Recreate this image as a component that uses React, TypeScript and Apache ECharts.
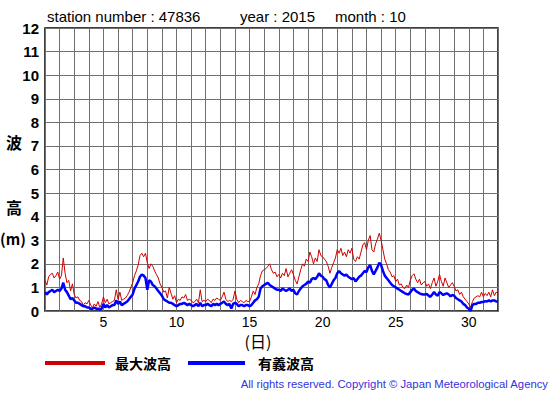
import React, { useEffect, useRef } from "react";
import * as echarts from "echarts";

// 3-hourly readings from 1st 00h to 32nd 00h (days on the x axis)
const maxWave: number[] = [
  1.3, 1.1, 1.45, 1.55, 1.6, 1.4, 1.5, 1.65,
  1.35, 1.5, 2.25, 1.6, 1.2, 1.3, 0.85, 1.15,
  0.7, 0.55, 0.6, 0.45, 0.4, 0.25, 0.35, 0.3,
  0.45, 0.25, 0.15, 0.3, 0.2, 0.4, 0.15, 0.3,
  0.6, 0.35, 0.5, 0.3, 0.35, 0.4, 0.45, 0.9,
  0.5, 0.8, 0.45, 0.5, 0.55, 0.65, 0.8, 1.0,
  1.2, 1.5, 1.7, 1.95, 2.35, 2.45, 2.3, 2.45,
  2.05, 1.8, 2.0, 1.9, 1.7, 1.55, 1.4, 1.15,
  1.0, 0.8, 0.85, 0.55, 1.0, 0.75, 0.5, 0.65,
  0.35, 0.5, 0.45, 0.6, 0.55, 0.7, 0.45, 0.5,
  0.45, 0.35, 0.4, 0.5, 0.35, 0.9, 0.4, 0.45,
  0.4, 0.5, 0.45, 0.35, 0.5, 0.45, 0.55, 0.5,
  0.45, 0.6, 0.8, 0.5, 0.4, 0.45, 0.4, 0.5,
  0.85, 0.5, 0.35, 0.45, 0.4, 0.35, 0.45, 0.4,
  0.4, 0.6, 0.85, 0.7, 1.0, 1.15, 1.5, 1.7,
  1.75, 1.8, 1.9, 2.0, 1.75, 1.6, 1.65, 1.45,
  1.55, 1.4, 1.6, 1.5, 1.8, 1.45, 1.6, 1.75,
  1.55, 1.3, 1.15, 1.45, 1.75, 2.0, 1.9, 2.2,
  2.1, 2.5, 2.3, 2.0, 2.25, 2.1, 2.6, 2.35,
  2.3, 2.2, 2.1, 1.9, 1.6, 1.85, 2.05, 2.25,
  2.6, 2.45, 2.66, 2.35, 2.5, 2.3, 2.6, 2.45,
  2.66, 2.2, 2.1, 2.3, 2.2, 2.5, 2.8, 2.9,
  2.6, 3.0, 3.2, 2.6, 2.5, 2.85, 3.05, 3.3,
  3.0, 2.6, 2.2, 2.0, 1.75, 1.65, 1.45, 1.5,
  1.25, 1.35, 1.1, 1.15, 1.0, 0.95, 1.1, 1.0,
  1.3, 1.5, 1.58, 1.35, 1.2, 1.35, 1.1, 1.2,
  1.25, 1.05, 1.15, 0.95, 1.2, 1.4, 1.05, 1.25,
  1.55, 1.25, 1.05, 1.4, 1.2, 1.0, 1.1, 1.2,
  1.05, 0.85, 0.9, 0.7, 0.8, 0.6, 0.5, 0.4,
  0.3, 0.15, 0.4, 0.55, 0.6, 0.65, 0.6, 0.8,
  0.6, 0.75, 0.65, 0.8, 0.6, 0.9, 0.65, 0.8, 0.75,
];

const sigWave: number[] = [
  0.8, 0.7, 0.8, 0.85, 0.9, 0.8, 0.85, 0.9,
  0.85, 0.95, 1.2, 0.9, 0.8, 0.65, 0.5, 0.55,
  0.45, 0.35, 0.35, 0.3, 0.25, 0.2, 0.2, 0.15,
  0.15, 0.1, 0.1, 0.15, 0.1, 0.1, 0.05, 0.1,
  0.3, 0.15, 0.25, 0.15, 0.2, 0.25, 0.25, 0.45,
  0.3, 0.4, 0.25, 0.3, 0.35, 0.4, 0.5, 0.6,
  0.7, 0.95, 1.1, 1.25, 1.45, 1.55, 1.5, 1.4,
  0.9, 1.3, 1.25, 1.1, 1.05, 0.95, 0.85, 0.75,
  0.65, 0.5, 0.45, 0.4, 0.35, 0.35, 0.3, 0.25,
  0.2, 0.25, 0.3, 0.3, 0.35, 0.3, 0.25, 0.3,
  0.25, 0.2, 0.25, 0.3, 0.2, 0.35, 0.2, 0.25,
  0.25, 0.3, 0.25, 0.2, 0.3, 0.25, 0.3, 0.25,
  0.3, 0.35, 0.4, 0.3, 0.25, 0.3, 0.1, 0.3,
  0.35, 0.3, 0.2, 0.25, 0.25, 0.2, 0.25, 0.25,
  0.2, 0.25, 0.35, 0.45, 0.5, 0.6, 0.95, 1.05,
  1.1, 1.15, 1.2, 1.1, 1.05, 1.0, 0.95, 0.9,
  0.9, 0.85, 0.95, 0.9, 0.85, 0.9, 0.95, 0.85,
  0.9, 0.75, 0.7, 0.85, 0.95, 1.05, 1.1, 1.15,
  1.25, 1.2, 1.35, 1.4, 1.35, 1.45, 1.6, 1.5,
  1.45, 1.35, 1.3, 1.1, 1.0, 1.15, 1.3, 1.4,
  1.6, 1.7, 1.6, 1.55, 1.5, 1.55, 1.45, 1.4,
  1.35, 1.4, 1.25, 1.35, 1.45, 1.5, 1.6, 1.7,
  1.65, 1.85, 1.95, 1.7, 1.55, 1.7, 1.85, 2.05,
  1.95, 1.7, 1.5, 1.4, 1.3, 1.2, 1.1, 1.05,
  1.0, 0.95, 0.9, 0.85, 0.8, 0.75, 0.72, 0.7,
  0.8, 0.9, 0.95, 0.85, 0.8, 0.75, 0.72, 0.7,
  0.7, 0.72, 0.65, 0.6, 0.7, 0.8, 0.7, 0.65,
  0.8, 0.75, 0.68, 0.72, 0.75, 0.7, 0.62, 0.68,
  0.65, 0.55, 0.5, 0.45, 0.4, 0.3, 0.25, 0.15,
  0.1, 0.0, 0.25, 0.3, 0.3, 0.35, 0.35, 0.38,
  0.38, 0.42, 0.4, 0.45, 0.4, 0.45, 0.45, 0.4, 0.4,
];

const xTickLabels = [5, 10, 15, 20, 25, 30];
const titleParts = ["station number : 47836", "year : 2015", "month : 10"];
const seriesNames = ["最大波高", "有義波高"];
const copyright = "All rights reserved. Copyright © Japan Meteorological Agency";

const STEPS_PER_DAY = 8;
const toPoints = (vals: number[]) => vals.map((v, i) => [1 + i / STEPS_PER_DAY, v]);

const LAT = "'Liberation Sans', Arial, Helvetica, sans-serif";
const CJK = "'Noto Sans CJK JP', sans-serif";

export default function App() {
  const ref = useRef<HTMLDivElement>(null);
  useEffect(() => {
    if (!ref.current) return;
    const chart = echarts.init(ref.current, undefined, { renderer: "svg" });
    chart.setOption({
      animation: false,
      backgroundColor: "#ffffff",
      grid: {
        left: 45,
        top: 28,
        width: 453,
        height: 283,
        show: true,
        borderColor: "#000",
        borderWidth: 1.5,
        backgroundColor: "transparent",
      },
      xAxis: {
        type: "value",
        min: 1,
        max: 32,
        interval: 1,
        axisLine: { show: false },
        axisTick: { show: false },
        splitLine: { show: true, lineStyle: { color: "#707070", width: 1 } },
        axisLabel: {
          margin: 4,
          fontSize: 14,
          color: "#000",
          fontFamily: LAT,
          formatter: (v: number) => (xTickLabels.includes(v) ? String(v) : ""),
        },
      },
      yAxis: {
        type: "value",
        min: 0,
        max: 12,
        interval: 1,
        axisLine: { show: false },
        axisTick: { show: false },
        splitLine: { show: true, lineStyle: { color: "#707070", width: 1 } },
        axisLabel: {
          margin: 6,
          fontSize: 15,
          fontWeight: "bold",
          color: "#000",
          fontFamily: LAT,
        },
      },
      series: [
        {
          name: seriesNames[0],
          type: "line",
          data: toPoints(maxWave),
          showSymbol: false,
          lineStyle: { color: "#cc0000", width: 1 },
          z: 3,
        },
        {
          name: seriesNames[1],
          type: "line",
          data: toPoints(sigWave),
          showSymbol: false,
          lineStyle: { color: "#0000ff", width: 2.5 },
          z: 4,
        },
      ],
      graphic: [
        { type: "text", left: 47, top: 9, style: { text: titleParts[0], font: `15px ${LAT}`, fill: "#000" } },
        { type: "text", left: 240, top: 9, style: { text: titleParts[1], font: `15px ${LAT}`, fill: "#000" } },
        { type: "text", left: 335, top: 9, style: { text: titleParts[2], font: `15px ${LAT}`, fill: "#000" } },
        { type: "text", x: 14, y: 142, style: { text: "波", font: `bold 16px ${CJK}`, fill: "#000", align: "center", verticalAlign: "middle" } },
        { type: "text", x: 14, y: 207, style: { text: "高", font: `bold 16px ${CJK}`, fill: "#000", align: "center", verticalAlign: "middle" } },
        { type: "text", x: 13, y: 238, style: { text: "(m)", font: `bold 15px ${CJK}`, fill: "#000", align: "center", verticalAlign: "middle" } },
        { type: "text", x: 258, y: 341, style: { text: "(日)", font: `16px ${CJK}`, fill: "#000", align: "center", verticalAlign: "middle" } },
        { type: "line", shape: { x1: 45, y1: 363, x2: 105, y2: 363 }, style: { stroke: "#cc0000", lineWidth: 4 } },
        { type: "text", x: 115, y: 363, style: { text: seriesNames[0], font: `bold 14px ${CJK}`, fill: "#000", verticalAlign: "middle" } },
        { type: "line", shape: { x1: 188, y1: 363, x2: 245, y2: 363 }, style: { stroke: "#0000ff", lineWidth: 4 } },
        { type: "text", x: 258, y: 363, style: { text: seriesNames[1], font: `bold 14px ${CJK}`, fill: "#000", verticalAlign: "middle" } },
        { type: "text", x: 548, y: 384, style: { text: copyright, font: `11.3px ${LAT}`, fill: "#3333dd", align: "right", verticalAlign: "middle" } },
      ],
    });
    return () => chart.dispose();
  }, []);
  return (
    <div
      ref={ref}
      style={{ position: "fixed", left: 0, top: 0, width: 555, height: 395, background: "#fff" }}
    />
  );
}
